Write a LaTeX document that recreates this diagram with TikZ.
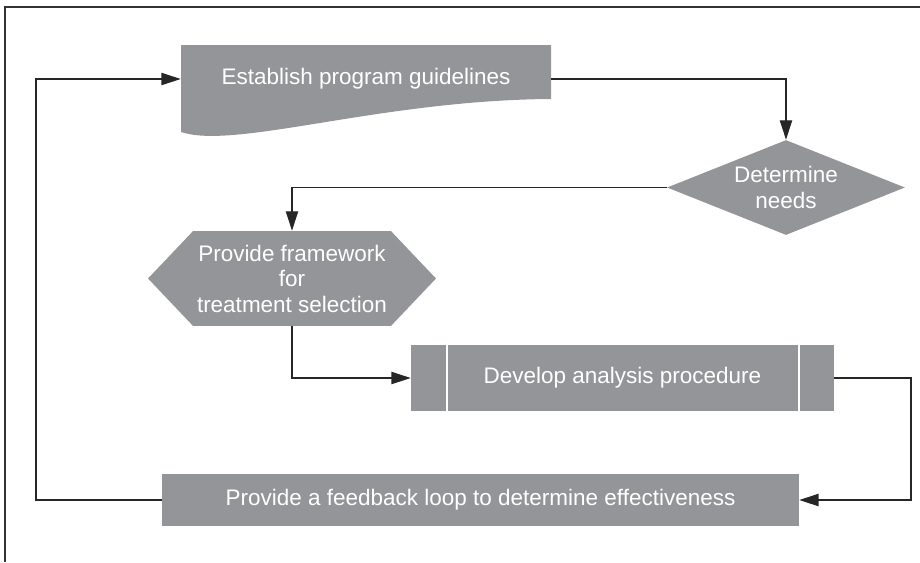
\documentclass[tikz,border=0pt]{standalone}
\usepackage{fontspec}
\setmainfont{Liberation Sans}
\usepackage{tikz}
\usetikzlibrary{arrows.meta,shapes.geometric,shapes.symbols}

\definecolor{boxgray}{HTML}{939598}
\newcommand{\chartfont}{\fontsize{12.8}{14.5}\selectfont}

\tikzset{
  box/.style={fill=boxgray, text=white, inner sep=0pt, align=center, font=\chartfont},
  arr/.style={draw=black!85, line width=0.75pt, -{Triangle[length=11pt,width=7pt]}},
}

\begin{document}
\begin{tikzpicture}[x=0.02cm, y=-0.02cm]
    \useasboundingbox (0,0) rectangle (920,562);
    % frame
    \draw[black!80, line width=1.1pt] (5,562) -- (5,7) -- (920,7);
    % document shape
    \fill[boxgray] (181,45) -- (551,45) -- (551,99)
        .. controls (380,100) and (235,150) .. (181,132) -- cycle;
    \node[inner sep=0pt, minimum width=7.4cm, minimum height=1.44cm, text=white, font=\chartfont] (guide) at (366,79) {Establish program guidelines};
    \node[box, diamond, aspect=2.5, minimum width=4.76cm, minimum height=1.9cm] (needs) at (786,187.5) {Determine\\needs};
    \node[box, signal, signal to=west and east, signal pointer angle=93, minimum width=5.76cm, minimum height=1.9cm] (select) at (292,278.5) {Provide framework\\for\\treatment selection};
    \node[box, minimum width=8.46cm, minimum height=1.32cm] (proc) at (622.5,378) {Develop analysis procedure};
    \draw[white, line width=1pt] ([xshift=0.72cm]proc.north west) -- ([xshift=0.72cm]proc.south west);
    \draw[white, line width=1pt] ([xshift=-0.7cm]proc.north east) -- ([xshift=-0.7cm]proc.south east);
    \node[box, minimum width=12.74cm, minimum height=1.04cm] (loop) at (480.5,500) {Provide a feedback loop to determine effectiveness};
    \coordinate (procR) at (911,378);
    \coordinate (loopL) at (36,500);
    \draw[arr] (guide.east) -| (needs.north);
    \draw[arr] (needs.west) -| (select.north);
    \draw[arr] (select.south) |- (proc.west);
    \draw[arr] (proc.east) -- (procR) |- (loop.east);
    \draw[arr] (loop.west) -- (loopL) |- (guide.west);
\end{tikzpicture}
\end{document}
